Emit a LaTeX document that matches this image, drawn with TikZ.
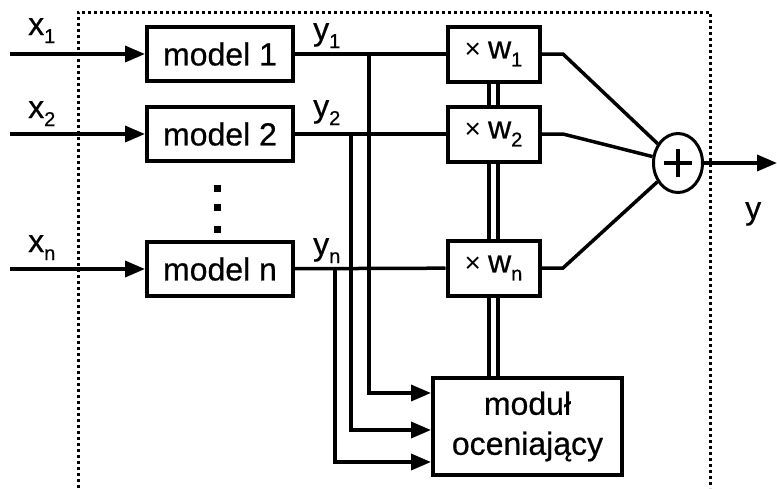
\documentclass[tikz,border=0pt]{standalone}
\usepackage{fontspec}
\setmainfont{Liberation Sans}[FakeBold=0.6]
\newfontfamily\thinfont{Liberation Sans}
\usetikzlibrary{arrows.meta,shapes.geometric}
\newcommand\subs[1]{\raisebox{-8pt}{\fontsize{20}{20}\selectfont #1}}
\newcommand\tms{{\thinfont\fontsize{28}{28}\selectfont ×}}
\begin{document}
\begin{tikzpicture}[x=1pt,y=-1pt,
 box/.style={draw, line width=4pt, inner sep=0pt, font=\fontsize{32}{40}\selectfont},
 wire/.style={line width=3.5pt},
 arr/.style={line width=3.5pt, -{Triangle[length=20pt,width=16pt]}},
 dbl/.style={double, line width=4pt, double distance=5pt},
 lbl/.style={anchor=base west, inner sep=0pt, font=\fontsize{32}{38}\selectfont},
 frame/.style={line width=3pt, dash pattern=on 3pt off 3pt}]
\useasboundingbox (0,0) rectangle (777,488);
% frame
\coordinate (f1) at (78,488);
\coordinate (f2) at (78,12);
\coordinate (f3) at (710,12);
\coordinate (f4) at (710,488);
\draw[frame] (f1) -- (f2) -- (f3) -- (f4);
% model boxes
\node[box, minimum width=146pt, minimum height=54pt] (m1) at (220,54) {model 1};
\node[box, minimum width=146pt, minimum height=54pt] (m2) at (220,134) {model 2};
\node[box, minimum width=146pt, minimum height=54pt] (mn) at (220,269) {model n};
% vertical dots
\fill (214,185) rectangle (221,192);
\fill (214,204) rectangle (221,211);
\fill (214,226) rectangle (221,233);
% weight boxes
\node[box, minimum width=92pt, minimum height=55pt] (w1) at (493.5,54) {\tms\hspace{7pt}w\subs{1}};
\node[box, minimum width=92pt, minimum height=55pt] (w2) at (493.5,134) {\tms\hspace{7pt}w\subs{2}};
\node[box, minimum width=92pt, minimum height=55pt] (wn) at (493.5,268) {\tms\hspace{7pt}w\subs{n}};
% module
\node[box, minimum width=189pt, minimum height=97pt, align=center] (mod) at (527.5,426.5) {moduł\\oceniający};
% sum
\node[draw, ellipse, line width=3pt, minimum width=49pt, minimum height=59pt, inner sep=0pt] (sum) at (678,163) {};
\draw[wire] ([xshift=-14pt]sum.center) -- ([xshift=14pt]sum.center);
\draw[wire] ([yshift=-14pt]sum.center) -- ([yshift=14pt]sum.center);
% inputs
\coordinate (i1) at (10,54);
\coordinate (i2) at (10,134);
\coordinate (in) at (10,269);
\draw[arr] (i1) -- (m1);
\draw[arr] (i2) -- (m2);
\draw[arr] (in) -- (mn);
% outputs of models
\draw[wire] (m1) -- (w1);
\draw[wire] (m2) -- (w2);
\draw[wire] (mn) -- (wn);
% taps to module
\coordinate (t1) at (369,54);
\coordinate (t2) at (351,134);
\coordinate (t3) at (335,269);
\draw[arr] (t1) |- ([yshift=33.5pt]mod.west);
\draw[arr] (t2) |- ([yshift=-3.5pt]mod.west);
\draw[arr] (t3) |- ([yshift=-35.5pt]mod.west);
% double connections
\draw[dbl] (w1) -- (w2);
\draw[dbl] (w2) -- (wn);
\draw[dbl] (wn.south) -- (wn.south |- mod.north);
% to sum
\coordinate (b1) at (563,54);
\coordinate (b2) at (563,134);
\coordinate (bn) at (563,268);
\draw[wire] (w1) -- (b1) -- (sum);
\draw[wire] (w2) -- (b2) -- (sum);
\draw[wire] (wn) -- (bn) -- (sum);
% output
\coordinate (out) at (777,163);
\draw[arr] (sum) -- (out);
% labels
\node[lbl] (lx1) at (28,35) {x\subs{1}};
\node[lbl] (lx2) at (28,118) {x\subs{2}};
\node[lbl] (lxn) at (28,252) {x\subs{n}};
\node[lbl] (ly1) at (313,40) {y\subs{1}};
\node[lbl] (ly2) at (313,117) {y\subs{2}};
\node[lbl] (lyn) at (313,255) {y\subs{n}};
\node[lbl] (ly) at (745,219) {y};
\end{tikzpicture}
\end{document}
